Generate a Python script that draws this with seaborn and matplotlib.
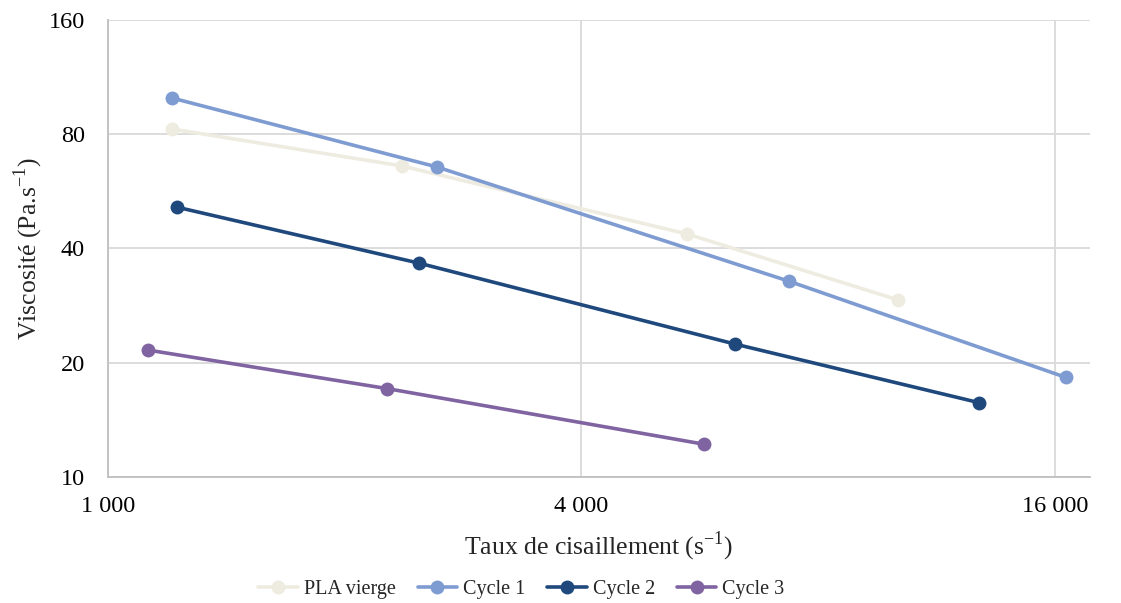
import numpy as np
import pandas as pd
import matplotlib
matplotlib.use("Agg")
import matplotlib.pyplot as plt
import seaborn as sns
from matplotlib.ticker import FixedLocator, FuncFormatter, NullLocator

series_names = ["PLA vierge", "Cycle 1", "Cycle 2", "Cycle 3"]
pla_x = [1206, 2365, 5448, 10100]
pla_y = [82.6, 66.0, 43.7, 29.3]
c1_x = [1206, 2620, 7343, 16520]
c1_y = [99.7, 65.6, 32.8, 18.3]
c2_x = [1224, 2486, 6270, 12810]
c2_y = [51.4, 36.6, 22.4, 15.7]
c3_x = [1124, 2263, 5726]
c3_y = [21.6, 17.1, 12.2]
colors = ["#EEECE1", "#7F9CD2", "#1F497D", "#8064A2"]
x_ticks = [1000, 4000, 16000]
y_ticks = [10, 20, 40, 80, 160]

frames = []
for name, xs, ys in zip(series_names, [pla_x, c1_x, c2_x, c3_x], [pla_y, c1_y, c2_y, c3_y]):
    frames.append(pd.DataFrame({"x": xs, "y": ys, "serie": name}))
df = pd.concat(frames, ignore_index=True)

sns.set_style("white")
plt.rcParams["font.family"] = ["Liberation Serif", "DejaVu Serif"]
plt.rcParams["mathtext.fontset"] = "custom"
plt.rcParams["mathtext.rm"] = "Liberation Serif"

fig = plt.figure(figsize=(11.21, 6.03), dpi=100)
ax = fig.add_axes([0.0963, 0.2090, 0.8760, 0.7578])

sns.lineplot(data=df, x="x", y="y", hue="serie", hue_order=series_names,
             palette=colors, marker="o", markersize=10, markeredgewidth=0,
             linewidth=2.6, sort=False, ax=ax, legend=True)

ax.set_xscale("log")
ax.set_yscale("log")
ax.set_xlim(1000, 17730)
ax.set_ylim(10, 160)
ax.xaxis.set_major_locator(FixedLocator(x_ticks))
ax.xaxis.set_minor_locator(NullLocator())
ax.yaxis.set_major_locator(FixedLocator(y_ticks))
ax.yaxis.set_minor_locator(NullLocator())
ax.xaxis.set_major_formatter(FuncFormatter(lambda v, p: f"{int(round(v)):,}".replace(",", " ")))
ax.yaxis.set_major_formatter(FuncFormatter(lambda v, p: f"{int(round(v))}"))
ax.grid(True, which="major", color="#D9D9D9", linewidth=1.3)
ax.set_axisbelow(True)
for s in ["top", "right"]:
    ax.spines[s].set_visible(False)
for s in ["left", "bottom"]:
    ax.spines[s].set_color("#BFBFBF")
    ax.spines[s].set_linewidth(1.3)
ax.tick_params(axis="both", length=0, labelsize=17.5, colors="#000000")
ax.tick_params(axis="y", pad=16.5)
ax.tick_params(axis="x", pad=14)

ax.set_xlabel(r"Taux de cisaillement (s$^{\mathregular{-1}}$)", fontsize=18.5, labelpad=9)
ax.set_ylabel(r"Viscosité (Pa.s$^{\mathregular{-1}}$)", fontsize=18.5, labelpad=3)

handles, labels = ax.get_legend_handles_labels()
ax.legend(handles, labels, loc="center", bbox_to_anchor=(0.421, -0.246), ncol=4,
          frameon=False, prop={"family": "Liberation Serif", "size": 14.5},
          handlelength=1.95, handletextpad=0.3, columnspacing=1.1)

fig.savefig("out.png", dpi=100)
